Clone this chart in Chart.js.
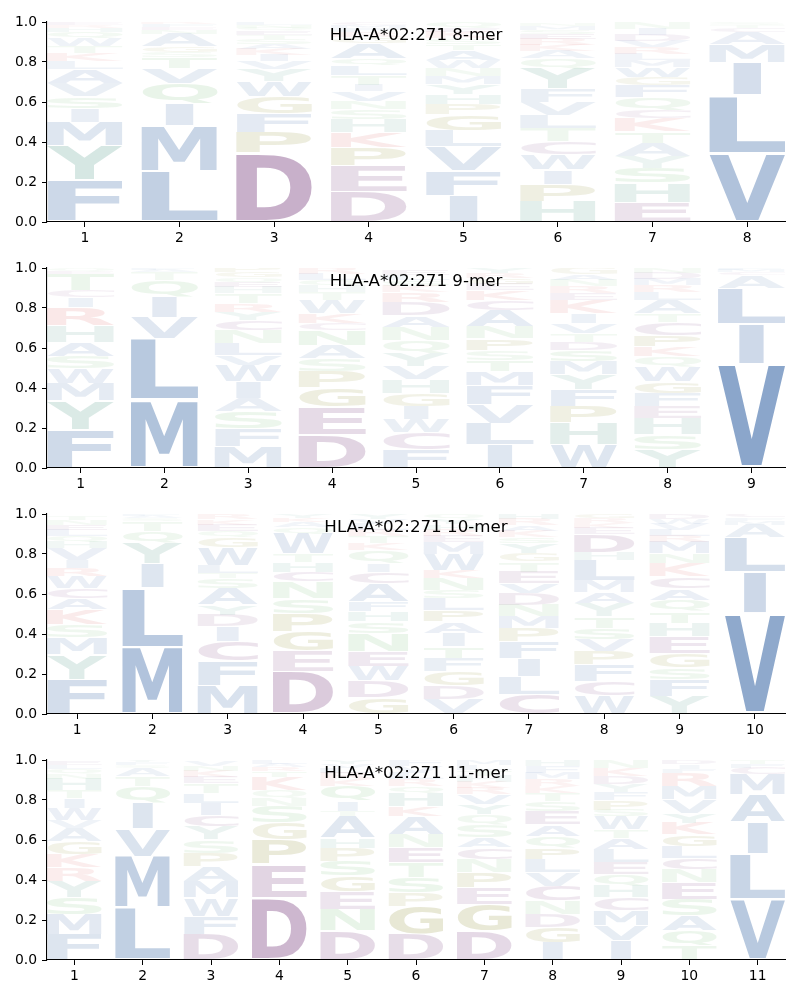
<!DOCTYPE html>
<html>
<head>
<meta charset="utf-8">
<script src="https://cdn.jsdelivr.net/npm/chart.js@4.4.1/dist/chart.umd.min.js"></script>
<style>
  body { margin: 0; background: #fff; }
  #fig { position: relative; width: 800px; height: 1000px; }
  .panel { position: absolute; left: 0; width: 800px; height: 246px; }
</style>
</head>
<body>
<div id="fig">
  <div class="panel" style="top:0px"><canvas id="c8" width="800" height="246"></canvas></div>
  <div class="panel" style="top:246px"><canvas id="c9" width="800" height="246"></canvas></div>
  <div class="panel" style="top:492px"><canvas id="c10" width="800" height="246"></canvas></div>
  <div class="panel" style="top:738px"><canvas id="c11" width="800" height="246"></canvas></div>
</div>
<script>
// letters of each position, bottom to top, and their heights (probability)
const letters8 = ['FYMISVALKTWQHRE', 'LMIQVTSGANEFR', 'DPFGWYVIKASTEQNL', 'DEPKHSNVITLQAGRFMC',
  'IFVLGPHYMNWATSKEQ', 'HPIWCTLVFYQAKRESMN', 'EHSYATKCQFGWMLRVDIN', 'VLIMACTS']
const heights8 = [
  [.21, .17, .12, .07, .058, .066, .072, .038, .04, .033, .04, .033, .02, .015, .015],
  [.256, .227, .11, .10, .075, .058, .025, .025, .066, .02, .015, .013, .01],
  [.345, .103, .096, .083, .075, .06, .04, .033, .03, .025, .025, .02, .02, .015, .016, .015],
  [.15, .13, .091, .075, .066, .05, .041, .05, .033, .05, .05, .033, .075, .03, .025, .02, .016, .015],
  [.133, .124, .121, .078, .08, .053, .05, .05, .04, .04, .04, .05, .03, .03, .03, .02, .03],
  [.104, .086, .071, .075, .066, .066, .066, .066, .066, .1, .05, .04, .03, .03, .025, .02, .02, .015],
  [.1, .095, .075, .058, .066, .058, .066, .04, .066, .058, .04, .05, .035, .03, .035, .03, .03, .03, .03],
  [.345, .29, .165, .09, .06, .02, .015, .015]
]

const letters9 = ['FYMWSAHRICTEQ', 'MLVIQTAF', 'MFSAIWVLNCYRTHEQGP', 'DEGPSANCKWTHQLR',
  'FCWIGHVYQNADRKSLE', 'ILVFMTSPNACKEGRY', 'WHPFYMSDTVIKERNAG', 'YSHEFGWQKPCTALRMDN', 'VILACMF']
const heights9 = [
  [.193, .145, .086, .074, .061, .071, .083, .09, .05, .033, .083, .015, .015],
  [.34, .305, .11, .1, .083, .04, .012, .01],
  [.107, .091, .083, .069, .083, .083, .05, .058, .066, .05, .041, .041, .05, .03, .025, .025, .025, .024],
  [.169, .137, .094, .083, .066, .066, .075, .033, .05, .066, .04, .03, .03, .03, .031],
  [.094, .083, .066, .066, .066, .066, .066, .066, .066, .066, .058, .066, .05, .03, .03, .027, .025],
  [.116, .107, .094, .094, .071, .058, .05, .058, .058, .083, .05, .05, .03, .03, .027, .025],
  [.119, .107, .083, .083, .074, .066, .058, .041, .041, .05, .05, .066, .035, .035, .03, .03, .032],
  [.094, .074, .083, .058, .066, .058, .074, .05, .05, .058, .066, .041, .066, .04, .035, .03, .03, .027],
  [.52, .2, .18, .065, .015, .01, .01]
]

const letters10 = ['FYMSKACWRIVHQLENT', 'MLIYQTSAF', 'MFCIDYASTLWGQEKR', 'DEGPSNCHTWQAKY',
  'GDWENSHFACIQKTRLVY', 'VDGFTIAPLSNKWMERHYQ', 'CLIFPMNDVETGYSKARH', 'WCFPVSTYAMLHDEKRG',
  'YFSGEHTQACKNMRLVWD', 'VILAMFC']
const heights10 = [
  [.174, .124, .083, .066, .074, .058, .05, .058, .041, .041, .058, .033, .03, .03, .025, .025, .022],
  [.335, .295, .12, .105, .06, .05, .015, .01, .01],
  [.144, .12, .1, .074, .058, .05, .083, .05, .025, .041, .09, .05, .03, .03, .028, .028],
  [.215, .099, .099, .091, .074, .083, .05, .05, .041, .1, .03, .025, .022, .022],
  [.083, .083, .074, .074, .09, .058, .05, .05, .09, .058, .041, .066, .035, .035, .03, .03, .027, .025],
  [.074, .066, .074, .066, .058, .066, .058, .058, .058, .041, .058, .041, .083, .058, .03, .03, .028, .027, .025],
  [.1, .09, .09, .083, .066, .058, .058, .058, .05, .058, .05, .041, .05, .03, .03, .03, .03, .029],
  [.09, .074, .083, .066, .058, .058, .058, .066, .058, .058, .1, .04, .09, .03, .025, .025, .02],
  [.09, .083, .058, .074, .083, .066, .058, .058, .058, .058, .066, .05, .058, .03, .03, .03, .025, .025],
  [.504, .207, .17, .066, .02, .015, .018]
]

const letters11 = ['FMSYRKGAVWITHNQLE', 'LMVIQTASFY', 'DFWMAPSYCILTEKNV', 'DEPGSNQKTRAL',
  'DNEGSPHATIQKRLVY', 'DGPSTENAKHQRLVF', 'DGEPNCASQYVRKHTLM', 'IGDNCVLPQAESTKRMFH',
  'IVMCHQELATWSPFYDKN', 'TQASENCLGKYVMRFID', 'VLIAMCFT']
const heights11 = [
  [.129, .1, .083, .083, .066, .066, .066, .066, .04, .058, .05, .041, .058, .025, .025, .021, .02],
  [.262, .257, .139, .129, .083, .05, .041, .015, .013, .012],
  [.129, .091, .091, .083, .075, .066, .066, .066, .058, .058, .05, .05, .03, .03, .028, .028],
  [.312, .166, .124, .083, .083, .04, .04, .066, .03, .02, .018, .018],
  [.146, .108, .086, .08, .075, .066, .05, .108, .025, .05, .075, .035, .03, .025, .023, .02],
  [.129, .141, .066, .075, .075, .075, .066, .09, .05, .066, .035, .035, .032, .032, .032],
  [.146, .133, .083, .075, .066, .058, .05, .066, .05, .05, .05, .033, .03, .03, .03, .025, .025],
  [.088, .075, .066, .066, .075, .066, .066, .058, .058, .058, .066, .05, .041, .035, .035, .032, .032, .032],
  [.096, .075, .075, .066, .058, .058, .058, .066, .058, .041, .066, .033, .05, .04, .04, .04, .04, .04],
  [.071, .075, .075, .083, .083, .066, .058, .058, .058, .058, .05, .066, .066, .066, .022, .022, .022],
  [.303, .227, .158, .141, .1, .033, .02, .018]
]

const titles = ['HLA-A*02:271 8-mer', 'HLA-A*02:271 9-mer', 'HLA-A*02:271 10-mer', 'HLA-A*02:271 11-mer']

// colour groups
const baseColor = {}
'AFILMVW'.split('').forEach(c => baseColor[c] = [30, 82, 153])
'YH'.split('').forEach(c => baseColor[c] = [42, 129, 107])
'DEC'.split('').forEach(c => baseColor[c] = [100, 30, 105])
'GP'.split('').forEach(c => baseColor[c] = [116, 116, 0])
'STNQ'.split('').forEach(c => baseColor[c] = [80, 170, 80])
'KR'.split('').forEach(c => baseColor[c] = [210, 60, 60])

const FONT = '"DejaVu Sans", sans-serif'
const VPAD = 0.05

function glyphColor(ch, h) {
  const rgb = baseColor[ch] || [120, 120, 120]
  const a = Math.min(1, 0.92 * h + 0.035)
  return `rgba(${rgb[0]},${rgb[1]},${rgb[2]},${a})`
}

function drawGlyph(ctx, ch, left, w, base, top, h) {
  ctx.save()
  ctx.font = 'bold 100px ' + FONT
  ctx.textAlign = 'left'
  ctx.textBaseline = 'alphabetic'
  const m = ctx.measureText(ch)
  const e = ctx.measureText('E')
  const cw = m.actualBoundingBoxLeft + m.actualBoundingBoxRight
  const chh = m.actualBoundingBoxAscent + m.actualBoundingBoxDescent
  const ew = e.actualBoundingBoxLeft + e.actualBoundingBoxRight
  const slot = base - top
  const gh = slot * (1 - VPAD)
  const bottom = base - slot * VPAD / 2
  const hs = Math.min(w / cw, w / ew)
  const shift = (w - hs * cw) / 2
  ctx.translate(left + shift, bottom)
  ctx.scale(hs, gh / chh)
  ctx.fillStyle = glyphColor(ch, h)
  ctx.fillText(ch, m.actualBoundingBoxLeft, -m.actualBoundingBoxDescent)
  ctx.restore()
}

const logoPlugin = {
  id: 'logo',
  afterDatasetsDraw(chart) {
    const ctx = chart.ctx
    const area = chart.chartArea
    ctx.save()
    ctx.beginPath()
    ctx.rect(area.left, area.top, area.right - area.left, area.bottom - area.top)
    ctx.clip()
    chart.data.datasets.forEach((ds, k) => {
      const meta = chart.getDatasetMeta(k)
      meta.data.forEach((bar, i) => {
        const ch = ds.letters[i]
        if (!ch) return
        const p = bar.getProps(['x', 'y', 'base', 'width'], true)
        drawGlyph(ctx, ch, p.x - p.width / 2, p.width, p.base, p.y, ds.data[i].y)
      })
    })
    ctx.restore()
    // title inside the axes
    const t = chart.options.plugins.logo.title
    ctx.save()
    ctx.font = '16.7px ' + FONT
    ctx.fillStyle = '#000'
    ctx.textAlign = 'center'
    ctx.textBaseline = 'middle'
    ctx.fillText(t, (area.left + area.right) / 2, area.top + 14)
    ctx.restore()
  }
}

function makeLogo(id, cols, heights, title) {
  const n = cols.length
  const positions = cols.map((c, i) => i + 1)
  const ranks = Math.max(...cols.map(c => c.length))
  const datasets = []
  for (let k = 0; k < ranks; k++) {
    datasets.push({
      data: positions.map((p, i) => ({ x: p, y: heights[i][k] != null ? heights[i][k] : null })),
      letters: cols.map(c => c[k] || null),
      backgroundColor: 'rgba(0,0,0,0)',
      borderWidth: 0,
      categoryPercentage: 1,
      barPercentage: 0.8
    })
  }
  const tickFont = { family: FONT, size: 13.9 }
  new Chart(document.getElementById(id), {
    type: 'bar',
    data: { datasets: datasets },
    options: {
      responsive: false,
      animation: false,
      devicePixelRatio: 1,
      events: [],
      layout: { padding: { left: 0, right: 15, top: 22, bottom: 0 } },
      plugins: { legend: { display: false }, tooltip: { enabled: false }, logo: { title: title } },
      scales: {
        x: {
          type: 'linear', min: 0.6, max: n + 0.4, offset: false, stacked: true,
          grid: { display: true, offset: false, drawOnChartArea: false, tickLength: 5, color: '#000', tickColor: '#000' },
          border: { display: true, color: '#000', width: 1.1 },
          ticks: { color: '#000', font: tickFont, padding: 3, autoSkip: false, maxRotation: 0 },
          afterBuildTicks: s => { s.ticks = positions.map(v => ({ value: v })) },
          afterFit: s => { s.height = 24 }
        },
        y: {
          type: 'linear', min: 0, max: 1, stacked: true,
          grid: { display: true, offset: false, drawOnChartArea: false, tickLength: 5, color: '#000', tickColor: '#000' },
          border: { display: true, color: '#000', width: 1.1 },
          ticks: { color: '#000', font: tickFont, padding: 5, stepSize: 0.2, callback: v => v.toFixed(1) },
          afterFit: s => { s.width = 47 }
        }
      }
    },
    plugins: [logoPlugin]
  })
}

makeLogo('c8', letters8, heights8, titles[0])
makeLogo('c9', letters9, heights9, titles[1])
makeLogo('c10', letters10, heights10, titles[2])
makeLogo('c11', letters11, heights11, titles[3])
</script>
</body>
</html>
